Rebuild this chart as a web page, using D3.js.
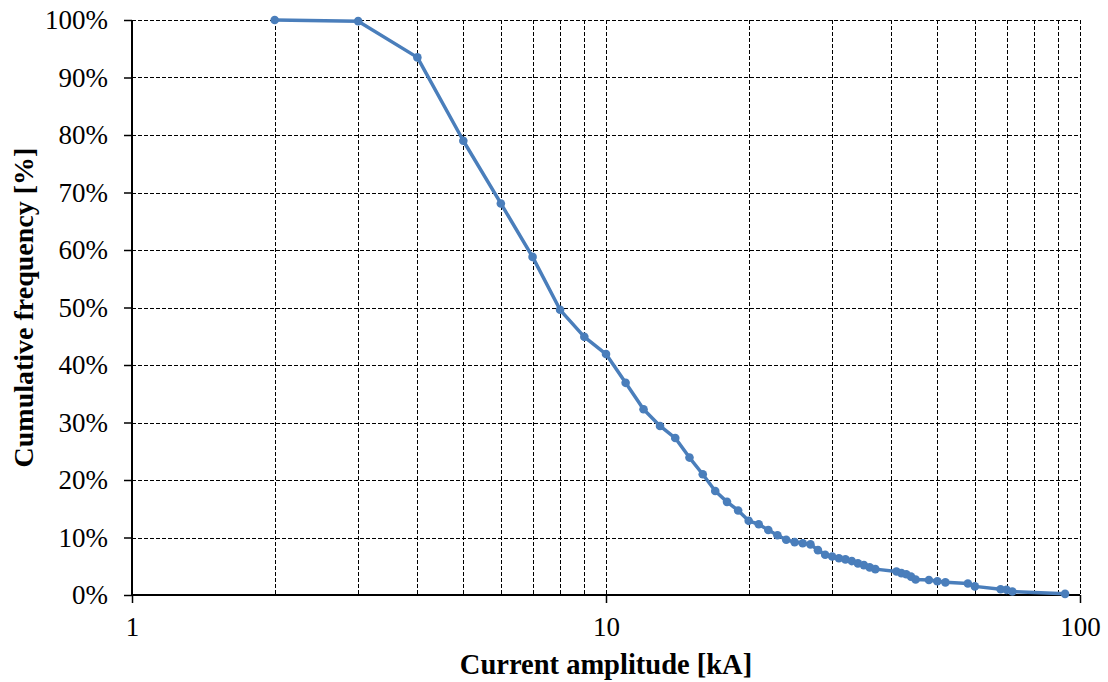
<!DOCTYPE html>
<html>
<head>
<meta charset="utf-8">
<script src="https://cdn.jsdelivr.net/npm/d3@7/dist/d3.min.js"></script>
<style>
  html, body { margin: 0; padding: 0; background: #fff; }
  svg { display: block; }
</style>
</head>
<body>
<svg id="chart" width="1108" height="682"></svg>
<script>
// Data
const currentKA = [2, 3, 4, 5, 6, 7, 8, 9, 10, 11, 12, 13, 14, 15, 16, 17, 18, 19, 20, 21, 22, 23, 24, 25, 26, 27, 28, 29, 30, 31, 32, 33, 34, 35, 36, 37, 41, 42, 43, 44, 45, 48, 50, 52, 58, 60, 68, 70, 72, 93];
const cumulativePct = [100, 99.8, 93.5, 79.0, 68.1, 58.8, 49.6, 44.9, 41.9, 36.9, 32.3, 29.4, 27.3, 23.9, 21.0, 18.1, 16.2, 14.7, 12.9, 12.3, 11.3, 10.4, 9.6, 9.2, 9.0, 8.8, 7.8, 7.0, 6.7, 6.4, 6.2, 5.9, 5.5, 5.2, 4.8, 4.5, 4.1, 3.8, 3.6, 3.2, 2.7, 2.6, 2.4, 2.2, 2.0, 1.5, 1.0, 0.9, 0.6, 0.2];
const xTickLabels = [1, 10, 100];
const xGridValues = [2, 3, 4, 5, 6, 7, 8, 9, 10, 20, 30, 40, 50, 60, 70, 80, 90, 100];
const yTickValues = [0, 10, 20, 30, 40, 50, 60, 70, 80, 90, 100];
const xTitle = "Current amplitude [kA]";
const yTitle = "Cumulative frequency [%]";

const FONT = '"Liberation Serif", "Times New Roman", Tinos, "DejaVu Serif", serif';

const svg = d3.select("#chart");
const margin = { left: 132, right: 28, top: 20, bottom: 87 };
const W = 1108, H = 682;
const x = d3.scaleLog().domain([1, 100]).range([margin.left, W - margin.right]);
const y = d3.scaleLinear().domain([0, 100]).range([H - margin.bottom, margin.top]);

// Grid lines
const grid = svg.append("g").attr("stroke", "#000").attr("stroke-width", 1)
  .attr("stroke-dasharray", "4,2").attr("shape-rendering", "crispEdges");
grid.selectAll("line.v").data(xGridValues).join("line")
  .attr("class", "v")
  .attr("x1", d => Math.round(x(d)) + 0.5).attr("x2", d => Math.round(x(d)) + 0.5)
  .attr("y1", y(100)).attr("y2", y(0));
grid.selectAll("line.h").data(yTickValues.filter(d => d > 0)).join("line")
  .attr("class", "h")
  .attr("x1", x(1)).attr("x2", x(100))
  .attr("y1", d => Math.round(y(d)) + 0.5).attr("y2", d => Math.round(y(d)) + 0.5);

// Y axis
const yAxis = d3.axisLeft(y).tickValues(yTickValues).tickFormat(d => d + "%").tickSize(8).tickPadding(16);
const gy = svg.append("g").attr("transform", `translate(${x(1)},0)`).call(yAxis)
  .attr("font-family", FONT).attr("font-size", 27);
gy.select(".domain").attr("stroke-width", 2).attr("d", `M0,${y(100)}V${y(0)}`);
gy.selectAll(".tick line").attr("stroke-width", 1.5);

// X axis
const xAxis = d3.axisBottom(x).tickValues(xTickLabels).tickFormat(d3.format("d")).tickSize(8).tickPadding(14);
const gx = svg.append("g").attr("transform", `translate(0,${y(0)})`).call(xAxis)
  .attr("font-family", FONT).attr("font-size", 27);
gx.select(".domain").attr("stroke-width", 2).attr("d", `M${x(1)},0H${x(100)}`);
gx.selectAll(".tick line").attr("stroke-width", 1.5);

// Series line
const line = d3.line().x((d, i) => x(currentKA[i])).y(d => y(d));
svg.append("path").datum(cumulativePct)
  .attr("fill", "none").attr("stroke", "#4A7EBB").attr("stroke-width", 3.5)
  .attr("stroke-linejoin", "round").attr("d", line);

svg.append("g").selectAll("circle").data(cumulativePct).join("circle")
  .attr("cx", (d, i) => x(currentKA[i])).attr("cy", d => y(d)).attr("r", 4.3)
  .attr("fill", "#4A7EBB");

// Titles
svg.append("text").attr("x", (x(1) + x(100)) / 2).attr("y", 674)
  .attr("text-anchor", "middle").attr("font-size", 28.5).attr("font-weight", "bold")
  .attr("font-family", FONT).text(xTitle);
svg.append("text").attr("transform", `translate(33,${(y(0) + y(100)) / 2}) rotate(-90)`)
  .attr("text-anchor", "middle").attr("font-size", 28).attr("font-weight", "bold")
  .attr("font-family", FONT).text(yTitle);
</script>
</body>
</html>
